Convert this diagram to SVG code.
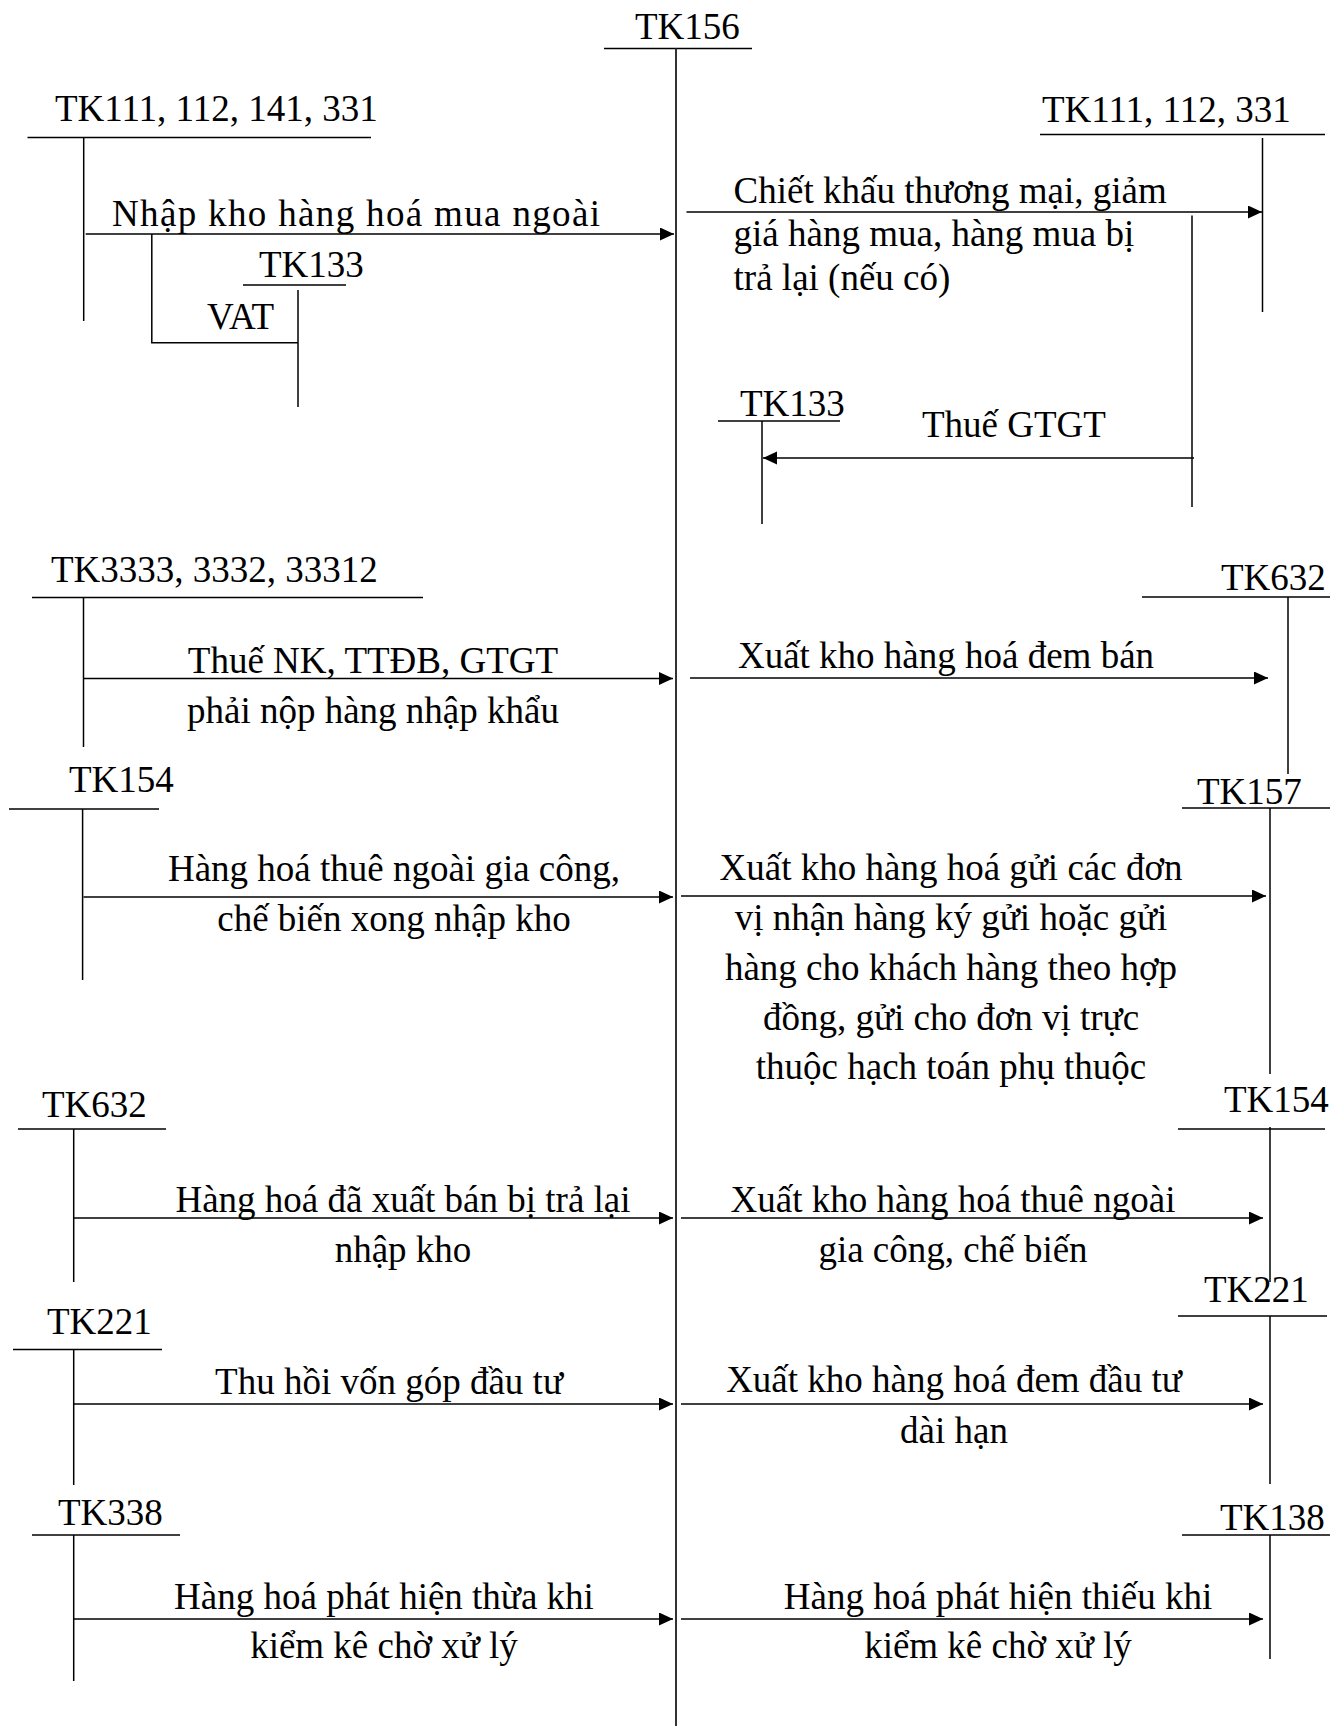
<svg xmlns="http://www.w3.org/2000/svg" width="1331" height="1726" viewBox="0 0 1331 1726">
<style>
text{font-family:"Liberation Serif","Times New Roman",serif;font-size:37px;fill:#000}
.c{text-anchor:middle}
line,polyline{stroke:#000;stroke-width:1.5;fill:none}
.main{stroke:#333;stroke-width:2}
</style>
<defs>
<marker id="ah" markerUnits="userSpaceOnUse" markerWidth="15" markerHeight="14" refX="14" refY="6.5" orient="auto">
<path d="M0,0 L14,6.5 L0,13 z" fill="#000"/>
</marker>
</defs>
<rect width="1331" height="1726" fill="#fff"/>

<g id="tk156">
<text x="635" y="39">TK156</text>
<line x1="604" y1="48.5" x2="752" y2="48.5"/>
<line class="main" x1="676" y1="48.5" x2="676" y2="1726"/>
</g>
<g id="tk111-left">
<text x="55" y="121">TK111, 112, 141, 331</text>
<line x1="27.5" y1="137.5" x2="371" y2="137.5"/>
<line x1="83.7" y1="137.5" x2="83.7" y2="321"/>
</g>
<g id="tk133-left">
<text x="259" y="277">TK133</text>
<line x1="243" y1="285" x2="346" y2="285"/>
<line x1="298" y1="290" x2="298" y2="407"/>
</g>
<g id="tk111-right">
<text x="1042" y="122">TK111, 112, 331</text>
<line x1="1040" y1="134.5" x2="1325" y2="134.5"/>
<line x1="1262.5" y1="138" x2="1262.5" y2="312"/>
</g>
<g id="tk133-right">
<text x="740" y="416">TK133</text>
<line x1="718" y1="421" x2="840" y2="421"/>
<line x1="762" y1="421" x2="762" y2="524"/>
</g>
<g id="tk3333">
<text x="51" y="582">TK3333, 3332, 33312</text>
<line x1="32" y1="597.6" x2="423" y2="597.6"/>
<line x1="83.5" y1="597.6" x2="83.5" y2="747"/>
</g>
<g id="tk632-right">
<text x="1221" y="590">TK632</text>
<line x1="1142" y1="597" x2="1330" y2="597"/>
<line x1="1288" y1="597" x2="1288" y2="774"/>
</g>
<g id="tk154-left">
<text x="69" y="792">TK154</text>
<line x1="9" y1="809" x2="159" y2="809"/>
<line x1="82.6" y1="809" x2="82.6" y2="980"/>
</g>
<g id="tk157">
<text x="1197" y="804">TK157</text>
<line x1="1182" y1="808" x2="1330" y2="808"/>
<line x1="1270" y1="808" x2="1270" y2="1074"/>
</g>
<g id="tk632-left">
<text x="42" y="1117">TK632</text>
<line x1="18" y1="1129" x2="166" y2="1129"/>
<line x1="73.7" y1="1129" x2="73.7" y2="1282"/>
</g>
<g id="tk154-right">
<text x="1224" y="1112">TK154</text>
<line x1="1178" y1="1129" x2="1325" y2="1129"/>
<line x1="1270" y1="1127" x2="1270" y2="1282"/>
</g>
<g id="tk221-left">
<text x="47" y="1334">TK221</text>
<line x1="13" y1="1349.5" x2="162" y2="1349.5"/>
<line x1="73.7" y1="1349.5" x2="73.7" y2="1485"/>
</g>
<g id="tk221-right">
<text x="1204" y="1302">TK221</text>
<line x1="1178" y1="1316" x2="1327" y2="1316"/>
<line x1="1270" y1="1316" x2="1270" y2="1484"/>
</g>
<g id="tk338">
<text x="58" y="1525">TK338</text>
<line x1="32" y1="1535" x2="180" y2="1535"/>
<line x1="73.7" y1="1535" x2="73.7" y2="1681"/>
</g>
<g id="tk138">
<text x="1220" y="1530">TK138</text>
<line x1="1182" y1="1535" x2="1330" y2="1535"/>
<line x1="1270" y1="1535" x2="1270" y2="1659"/>
</g>

<g id="connectors">
<line x1="85.7" y1="234" x2="674" y2="234" marker-end="url(#ah)"/>
<text x="112" y="226" textLength="488" lengthAdjust="spacing">Nhập kho hàng hoá mua ngoài</text>
<polyline points="151.8,234 151.8,342.7 298,342.7"/>
<text x="207" y="329">VAT</text>

<line x1="686.5" y1="212" x2="1262" y2="212" marker-end="url(#ah)"/>
<text x="733.6" y="203">Chiết khấu thương mại, giảm</text>
<text x="733.6" y="246">giá hàng mua, hàng mua bị</text>
<text x="733.6" y="290">trả lại (nếu có)</text>
<line x1="1192" y1="215.5" x2="1192" y2="507"/>
<line x1="1194" y1="458" x2="763" y2="458" marker-end="url(#ah)"/>
<text x="922" y="437">Thuế GTGT</text>

<line x1="83.5" y1="678.5" x2="673" y2="678.5" marker-end="url(#ah)"/>
<text class="c" x="373" y="673">Thuế NK, TTĐB, GTGT</text>
<text class="c" x="373" y="723">phải nộp hàng nhập khẩu</text>

<line x1="690" y1="678" x2="1268" y2="678" marker-end="url(#ah)"/>
<text class="c" x="946" y="668">Xuất kho hàng hoá đem bán</text>

<line x1="83.5" y1="897" x2="673" y2="897" marker-end="url(#ah)"/>
<text class="c" x="394" y="881">Hàng hoá thuê ngoài gia công,</text>
<text class="c" x="394" y="931">chế biến xong nhập kho</text>

<line x1="681" y1="896" x2="1266" y2="896" marker-end="url(#ah)"/>
<text class="c" x="951" y="880">Xuất kho hàng hoá gửi các đơn</text>
<text class="c" x="951" y="930">vị nhận hàng ký gửi hoặc gửi</text>
<text class="c" x="951" y="980">hàng cho khách hàng theo hợp</text>
<text class="c" x="951" y="1030">đồng, gửi cho đơn vị trực</text>
<text class="c" x="951" y="1079">thuộc hạch toán phụ thuộc</text>

<line x1="73.7" y1="1218" x2="673" y2="1218" marker-end="url(#ah)"/>
<text class="c" x="403" y="1212">Hàng hoá đã xuất bán bị trả lại</text>
<text class="c" x="403" y="1262">nhập kho</text>

<line x1="681" y1="1218" x2="1263" y2="1218" marker-end="url(#ah)"/>
<text class="c" x="953" y="1212">Xuất kho hàng hoá thuê ngoài</text>
<text class="c" x="953" y="1262">gia công, chế biến</text>

<line x1="73.7" y1="1404" x2="673" y2="1404" marker-end="url(#ah)"/>
<text class="c" x="389" y="1394">Thu hồi vốn góp đầu tư</text>

<line x1="681" y1="1404" x2="1263" y2="1404" marker-end="url(#ah)"/>
<text class="c" x="954" y="1392">Xuất kho hàng hoá đem đầu tư</text>
<text class="c" x="954" y="1443">dài hạn</text>

<line x1="73.7" y1="1619" x2="673" y2="1619" marker-end="url(#ah)"/>
<text class="c" x="384" y="1609">Hàng hoá phát hiện thừa khi</text>
<text class="c" x="384" y="1658">kiểm kê chờ xử lý</text>

<line x1="681" y1="1619" x2="1263" y2="1619" marker-end="url(#ah)"/>
<text class="c" x="998" y="1609">Hàng hoá phát hiện thiếu khi</text>
<text class="c" x="998" y="1658">kiểm kê chờ xử lý</text>
</g>
</svg>
